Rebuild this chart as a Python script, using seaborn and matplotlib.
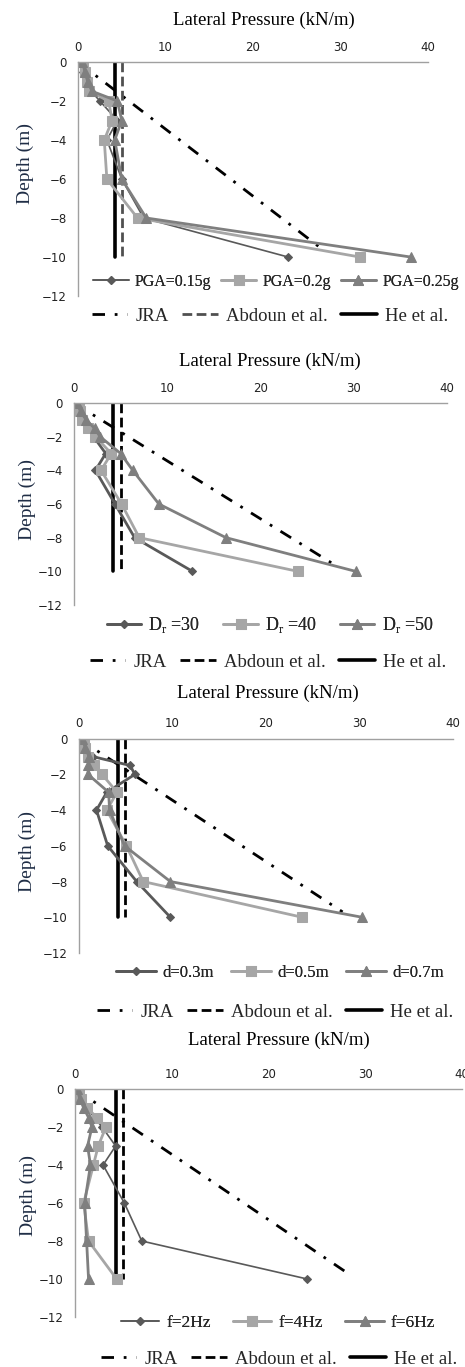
import matplotlib
matplotlib.use("Agg")
import matplotlib.pyplot as plt
import seaborn as sns
import pandas as pd

sns.set_theme(style="white")
plt.rcParams['font.family'] = ['DejaVu Sans']
plt.rcParams['mathtext.fontset'] = 'custom'
plt.rcParams['mathtext.rm'] = 'Liberation Serif'

# ---------------- data ----------------
depth = [0, -0.5, -1, -1.5, -2, -3, -4, -6, -8, -10]

# panel 1 : PGA
pga_labels = ["PGA=0.15g", "PGA=0.2g", "PGA=0.25g"]
pga_015 = [0.3, 0.6, 1.0, 1.5, 2.5, 4.5, 3.3, 5.0, 7.5, 24.0]
pga_02 = [0.6, 0.8, 1.0, 1.3, 3.5, 3.9, 3.0, 3.3, 6.8, 32.2]
pga_025 = [0.5, 0.8, 1.1, 1.6, 4.5, 5.0, 4.2, 5.0, 7.8, 38.0]

# panel 2 : relative density
dr_labels = [r"D$_\mathrm{r}$ =30", r"D$_\mathrm{r}$ =40", r"D$_\mathrm{r}$ =50"]
dr_30 = [0.2, 0.5, 1.0, 1.6, 2.1, 3.4, 2.3, 4.4, 6.5, 12.7]
dr_40 = [0.5, 0.6, 0.9, 1.5, 2.3, 4.0, 2.9, 5.1, 7.0, 24.0]
dr_50 = [0.3, 0.7, 1.3, 2.2, 2.8, 5.0, 6.3, 9.1, 16.3, 30.2]

# panel 3 : pile diameter
d_labels = ["d=0.3m", "d=0.5m", "d=0.7m"]
d_03 = [0.0, 0.6, 1.5, 5.5, 6.0, 3.0, 1.9, 3.1, 6.2, 9.8]
d_05 = [0.6, 0.7, 1.0, 1.6, 2.5, 4.1, 3.0, 5.1, 6.9, 23.9]
d_07 = [0.4, 0.7, 1.1, 1.0, 1.0, 3.2, 3.3, 4.9, 9.8, 30.3]

# panel 4 : frequency
f_labels = ["f=2Hz", "f=4Hz", "f=6Hz"]
f_2 = [0.2, 0.6, 1.2, 2.0, 2.8, 4.2, 2.9, 5.1, 6.9, 24.0]
f_4 = [0.4, 0.6, 1.2, 2.3, 3.2, 2.4, 1.9, 0.9, 1.4, 4.3]
f_6 = [0.2, 0.5, 0.9, 1.4, 1.75, 1.3, 1.6, 1.0, 1.2, 1.4]

# reference design lines
ref_labels = ["JRA", "Abdoun et al.", "He et al."]
jra_x = [0, 28.2]
jra_depth = [0, -9.7]
abdoun_x = [5.0, 5.0]
abdoun_depth = [0, -10]
he_x = [4.2, 4.2]
he_depth = [0, -10]

xticks = [0, 10, 20, 30, 40]
yticks = [0, -2, -4, -6, -8, -10, -12]

panels = [
    dict(series=[pga_015, pga_02, pga_025], labels=pga_labels,
         rect=[78, 62, 428, 296], thin=True, abd_color="#505050",
         title_xy=(264, 20), ylab_xy=(25, 163),
         leg1=(276, 282), leg2=(270, 316), l1=(11.5, 2.2, 0.6)),
    dict(series=[dr_30, dr_40, dr_50], labels=dr_labels,
         rect=[74, 403, 447, 605], thin=False, abd_color="black",
         title_xy=(270, 361), ylab_xy=(27, 500),
         leg1=(270, 625), leg2=(268, 662), l1=(13, 1.9, 1.3)),
    dict(series=[d_03, d_05, d_07], labels=d_labels,
         rect=[78.7, 738.7, 453, 953], thin=False, abd_color="black",
         title_xy=(268, 693), ylab_xy=(27, 852),
         leg1=(280, 973), leg2=(275, 1012), l1=(12, 2.4, 1.0)),
    dict(series=[f_2, f_4, f_6], labels=f_labels,
         rect=[75, 1089, 462, 1317], thin=True, abd_color="black",
         title_xy=(279, 1040), ylab_xy=(28, 1195),
         leg1=(278, 1323), leg2=(279, 1359), l1=(12.5, 2.2, 1.3)),
]

W, H = 465, 1367
fig = plt.figure(figsize=(W / 100, H / 100), dpi=100)

series_colors = ["#595959", "#A6A6A6", "#7F7F7F"]
series_markers = ["D", "s", "^"]
series_msize = [4, 7.5, 7.5]

serif = ["Liberation Serif", "DejaVu Serif"]

for p in panels:
    x0, y0, x1, y1 = p["rect"]
    ax = fig.add_axes([x0 / W, 1 - y1 / H, (x1 - x0) / W, (y1 - y0) / H])

    # reference lines
    sns.lineplot(x=jra_x, y=jra_depth, sort=False, estimator=None,
                 color="black", lw=2, ax=ax)
    ax.lines[-1].set_dashes((4.5, 3.5, 1, 3.5))
    h_jra = ax.lines[-1]
    sns.lineplot(x=abdoun_x, y=abdoun_depth, sort=False, estimator=None,
                 color=p["abd_color"], lw=2, ax=ax)
    ax.lines[-1].set_dashes((3.5, 1.6))
    h_abd = ax.lines[-1]
    sns.lineplot(x=he_x, y=he_depth, sort=False, estimator=None,
                 color="black", lw=2.6, ax=ax)
    h_he = ax.lines[-1]

    handles = []
    for i, vals in enumerate(p["series"]):
        lw = 1.2 if (i == 0 and p["thin"]) else 2.0
        df = pd.DataFrame({"pressure": vals, "depth": depth})
        sns.lineplot(data=df, x="pressure", y="depth", sort=False,
                     estimator=None, color=series_colors[i],
                     marker=series_markers[i], markersize=series_msize[i],
                     markeredgecolor=series_colors[i], lw=lw, ax=ax)
        handles.append(ax.lines[-1])

    ax.set_xlim(0, 40)
    ax.set_ylim(-12, 0)
    ax.set_xticks(xticks)
    ax.set_yticks(yticks)
    ax.xaxis.tick_top()
    ax.tick_params(axis="both", length=0, labelsize=8.5, colors="#222222")
    ax.tick_params(axis="x", pad=6)
    ax.tick_params(axis="y", pad=8)
    for s in ["right", "bottom"]:
        ax.spines[s].set_visible(False)
    for s in ["left", "top"]:
        ax.spines[s].set_color("#A0A0A0")
        ax.spines[s].set_linewidth(1.0)
    ax.grid(False)
    ax.set_facecolor("none")

    ax.xaxis.set_label_position("top")
    ax.set_xlabel("Lateral Pressure (kN/m)", fontsize=13.5, family=serif,
                  color="black")
    tx, ty = p["title_xy"]
    ax.xaxis.set_label_coords((tx - x0) / (x1 - x0), 1 + (y0 - ty) / (y1 - y0))
    ax.xaxis.label.set_va("center")

    ax.set_ylabel("Depth (m)", fontsize=14, family=serif, color="#1F2D45")
    lx, ly = p["ylab_xy"]
    ax.yaxis.set_label_coords((lx - x0) / (x1 - x0), 1 - (ly - y0) / (y1 - y0))
    ax.yaxis.label.set_va("center")

    fs1, hl1, cs1 = p["l1"]
    lx1, ly1 = p["leg1"]
    leg1 = ax.legend(handles, p["labels"], ncol=3, frameon=False, loc="center",
                     bbox_to_anchor=(lx1 / W, 1 - ly1 / H),
                     bbox_transform=fig.transFigure, handlelength=hl1,
                     handletextpad=0.4, columnspacing=cs1,
                     prop={"family": serif, "size": fs1}, borderaxespad=0)
    ax.add_artist(leg1)
    lx2, ly2 = p["leg2"]
    fig.legend([h_jra, h_abd, h_he], ref_labels, ncol=3, frameon=False,
               loc="center", bbox_to_anchor=(lx2 / W, 1 - ly2 / H),
               bbox_transform=fig.transFigure, handlelength=1.9,
               handletextpad=0.45, columnspacing=0.7,
               prop={"family": serif, "size": 13.5}, borderaxespad=0)

fig.savefig("out.png", dpi=100)
